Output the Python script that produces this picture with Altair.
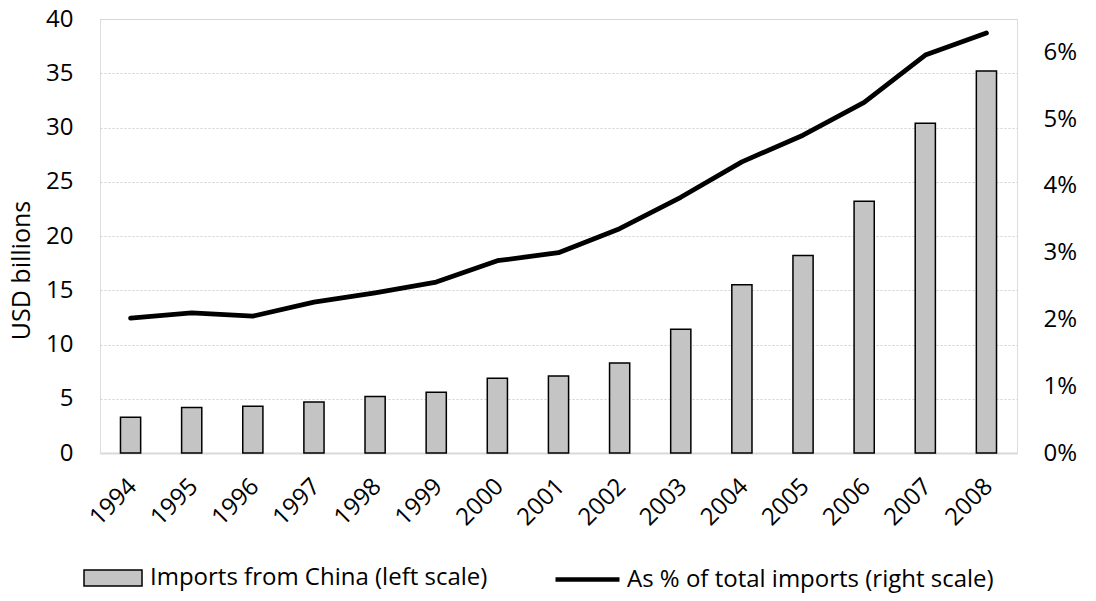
import altair as alt
import pandas as pd

years = [str(y) for y in range(1994, 2009)]
imports_bn = [3.3, 4.2, 4.3, 4.7, 5.2, 5.6, 6.9, 7.1, 8.3, 11.4, 15.5, 18.2, 23.2, 30.4, 35.2]
share_pct = [2.02, 2.10, 2.05, 2.26, 2.40, 2.56, 2.88, 3.00, 3.36, 3.83, 4.36, 4.76, 5.25, 5.96, 6.29]

S1 = "Imports from China (left scale)"
S2 = "As % of total imports (right scale)"

df = pd.DataFrame({
    "year": years,
    "imports": imports_bn,
    "share": [v / 100 for v in share_pct],
})

FONT = "Open Sans"
BAR_FILL = "#c4c4c4"

bar_legend = alt.Legend(
    title=None,
    orient="none",
    legendX=-17,
    legendY=529,
    labelFontSize=24,
    labelFont=FONT,
    labelColor="#000000",
    labelOffset=7,
    symbolSize=3364,
    symbolType="M-1,-0.276H1V0.276H-1Z",
    symbolStrokeColor="#000000",
    symbolStrokeWidth=1.5,
    symbolFillColor=BAR_FILL,
    symbolOpacity=1,
    padding=0,
    labelLimit=600,
)

line_legend = alt.Legend(
    title=None,
    orient="none",
    legendX=453,
    legendY=526,
    labelFontSize=24,
    labelFont=FONT,
    labelColor="#000000",
    labelOffset=5,
    symbolSize=4096,
    symbolType="stroke",
    symbolStrokeWidth=4.5,
    symbolStrokeColor="#000000",
    symbolOpacity=1,
    padding=0,
    labelLimit=600,
)

x_enc = alt.X(
    "year:N",
    sort=years,
    scale=alt.Scale(paddingInner=0.67, paddingOuter=0.335),
    axis=alt.Axis(
        title=None,
        labelAngle=-45,
        labelFontSize=24,
        labelFont=FONT,
        labelColor="#000000",
        labelPadding=21,
        labelOffset=-6,
        ticks=False,
        grid=False,
        domainColor="#d9d9d9",
        domainWidth=2,
    ),
)

bars = alt.Chart(df).mark_bar(stroke="#000000", strokeWidth=1.5, opacity=1).transform_calculate(
    series=f"'{S1}'"
).encode(
    x=x_enc,
    y=alt.Y(
        "imports:Q",
        scale=alt.Scale(domain=[0, 40], nice=False),
        axis=alt.Axis(
            title="USD billions",
            titleFontSize=25,
            titleFont=FONT,
            titleFontWeight="normal",
            titleColor="#000000",
            titlePadding=11,
            titleY=251,
            values=[0, 5, 10, 15, 20, 25, 30, 35, 40],
            labelFontSize=24,
            labelFont=FONT,
            labelColor="#000000",
            labelPadding=27,
            ticks=False,
            domain=False,
            grid=True,
            gridColor="#d0d0d0",
            gridDash=[2, 2],
            gridWidth=1,
        ),
    ),
    fill=alt.Fill("series:N", scale=alt.Scale(domain=[S1], range=[BAR_FILL]), legend=bar_legend),
)

line = alt.Chart(df).mark_line(strokeWidth=4.8, strokeJoin="round", strokeCap="round").transform_calculate(
    series=f"'{S2}'"
).encode(
    x=x_enc,
    y=alt.Y(
        "share:Q",
        scale=alt.Scale(domain=[0, 0.065], nice=False),
        axis=alt.Axis(
            title=None,
            orient="right",
            values=[0, 0.01, 0.02, 0.03, 0.04, 0.05, 0.06],
            format=".0%",
            labelFontSize=24,
            labelFont=FONT,
            labelColor="#000000",
            labelPadding=26,
            ticks=False,
            domain=False,
            grid=False,
        ),
    ),
    stroke=alt.Stroke("series:N", scale=alt.Scale(domain=[S2], range=["#000000"]), legend=line_legend),
)

chart = alt.layer(bars, line).resolve_scale(y="independent").properties(
    width=917,
    height=434,
    autosize=alt.AutoSizeParams(type="none"),
    padding={"left": 92, "top": 11, "right": 70, "bottom": 140},
).configure_view(stroke=None).configure(background="white")

chart.save("out.html", embed_options={"renderer": "svg", "actions": False})
